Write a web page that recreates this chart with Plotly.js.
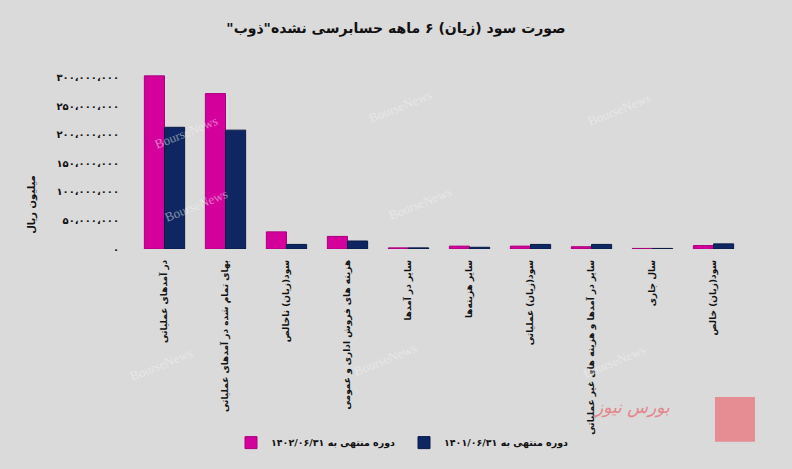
<!DOCTYPE html>
<html>
<head>
<meta charset="utf-8">
<script src="https://cdn.plot.ly/plotly-3.0.1.min.js"></script>
<style>
  html, body { margin: 0; padding: 0; background: #dadada; }
  #chart { width: 792px; height: 469px; }
</style>
</head>
<body>
<div id="chart"></div>
<script>
const RLM = '\u200F';

const chartTitle = 'صورت سود (زیان) ۶ ماهه حسابرسی نشده"ذوب"';
const yUnitLabel = 'میلیون ریال';

const categories = [
  'در آمدهای عملیاتی',
  'بهای تمام شده در آمدهای عملیاتی',
  'سود(زیان) ناخالص',
  'هزینه های فروش اداری و عمومی',
  'سایر در آمدها',
  'سایر هزینه‌ها',
  'سود(زیان) عملیاتی',
  'سایر در آمدها و هزینه های غیر عملیاتی',
  'سال جاری',
  'سود(زیان) خالص'
];

const seriesNames = ['دوره منتهی به ۱۴۰۲/۰۶/۳۱', 'دوره منتهی به ۱۴۰۱/۰۶/۳۱'];

const values1402 = [303000000, 272000000, 30000000, 22000000, 2000000, 5000000, 5000000, 4000000, 1000000, 6000000];
const values1401 = [213000000, 208000000, 8000000, 14000000, 2000000, 3000000, 8000000, 8000000, 1000000, 9000000];

const yTickVals = [0, 50000000, 100000000, 150000000, 200000000, 250000000, 300000000];
const yTickText = ['۰', '۵۰،۰۰۰،۰۰۰', '۱۰۰،۰۰۰،۰۰۰', '۱۵۰،۰۰۰،۰۰۰', '۲۰۰،۰۰۰،۰۰۰', '۲۵۰،۰۰۰،۰۰۰', '۳۰۰،۰۰۰،۰۰۰'];

const rtl = s => RLM + s + RLM;
const bold = s => '<b>' + s + '</b>';
const catLabels = categories.map(rtl);

const FONT = '"DejaVu Sans", "Liberation Sans", sans-serif';

const traces = [
  {
    type: 'bar',
    name: bold(rtl(seriesNames[0])),
    x: catLabels,
    y: values1402,
    marker: { color: '#d4009c', line: { color: '#a8007c', width: 1 } },
    hoverinfo: 'skip'
  },
  {
    type: 'bar',
    name: bold(rtl(seriesNames[1])),
    x: catLabels,
    y: values1401,
    marker: { color: '#0e2661', line: { color: '#081a45', width: 1 } },
    hoverinfo: 'skip'
  }
];

const watermarks = [
  [150, 112], [400, 85], [655, 88],
  [160, 232], [420, 230],
  [125, 395], [385, 390], [650, 392]
].map(p => ({
  xref: 'paper', yref: 'paper',
  x: (p[0] - 134) / 610, y: (254 - p[1]) / 185,
  text: 'BourseNews', showarrow: false, textangle: -22,
  font: { family: '"Liberation Serif", serif', size: 13, color: 'rgba(245,245,245,0.5)' }
}));

const layout = {
  width: 792,
  height: 469,
  paper_bgcolor: '#dadada',
  plot_bgcolor: '#dadada',
  margin: { l: 134, r: 48, t: 69, b: 215 },
  font: { family: FONT, color: '#111', size: 10 },
  title: {
    text: bold(rtl(chartTitle)),
    x: 0.5, xref: 'container', xanchor: 'center',
    y: 1 - 28 / 469, yref: 'container', yanchor: 'middle',
    font: { family: FONT, size: 14, color: '#111' }
  },
  barmode: 'group',
  bargap: 0.34,
  bargroupgap: 0,
  xaxis: {
    type: 'category',
    tickangle: -90,
    showgrid: false,
    zeroline: false,
    showline: false,
    ticks: '',
    ticklabelstandoff: 8,
    tickvals: catLabels,
    ticktext: catLabels.map(bold),
    tickfont: { family: FONT, size: 9, color: '#111' },
    automargin: false
  },
  yaxis: {
    range: [0, 315000000],
    tickvals: yTickVals,
    ticktext: yTickText.map(bold),
    showgrid: false,
    zeroline: false,
    showline: false,
    ticks: '',
    ticklabelstandoff: 14,
    tickfont: { family: FONT, size: 10, color: '#111' },
    automargin: false
  },
  showlegend: true,
  legend: {
    orientation: 'h',
    x: (231 - 134) / 610, xanchor: 'left',
    y: (254 - 453) / 185, yanchor: 'middle',
    bgcolor: 'rgba(0,0,0,0)',
    font: { family: FONT, size: 9.5, color: '#111' },
    entrywidth: 128,
    entrywidthmode: 'pixels',
    itemwidth: 30,
    traceorder: 'normal'
  },
  annotations: [
    {
      xref: 'paper', yref: 'paper',
      x: (24 - 134) / 610, y: (254 - 241) / 185,
      text: bold(rtl(yUnitLabel)),
      showarrow: false, textangle: -90,
      font: { family: FONT, size: 10, color: '#111' }
    },
    {
      xref: 'paper', yref: 'paper',
      x: (672 - 134) / 610, y: (254 - 430) / 185,
      text: '<i>' + rtl('بورس نیوز') + '</i>',
      showarrow: false,
      font: { family: FONT, size: 17, color: '#e3868c' }
    }
  ].concat(watermarks),
  shapes: [
    {
      type: 'rect', xref: 'paper', yref: 'paper', layer: 'below',
      x0: (715 - 134) / 610, x1: (755 - 134) / 610,
      y0: (254 - 452) / 185, y1: (254 - 406) / 185,
      fillcolor: '#e58d92', line: { width: 0 }
    }
  ]
};

Plotly.newPlot('chart', traces, layout, { displayModeBar: false, staticPlot: true });
</script>
</body>
</html>
